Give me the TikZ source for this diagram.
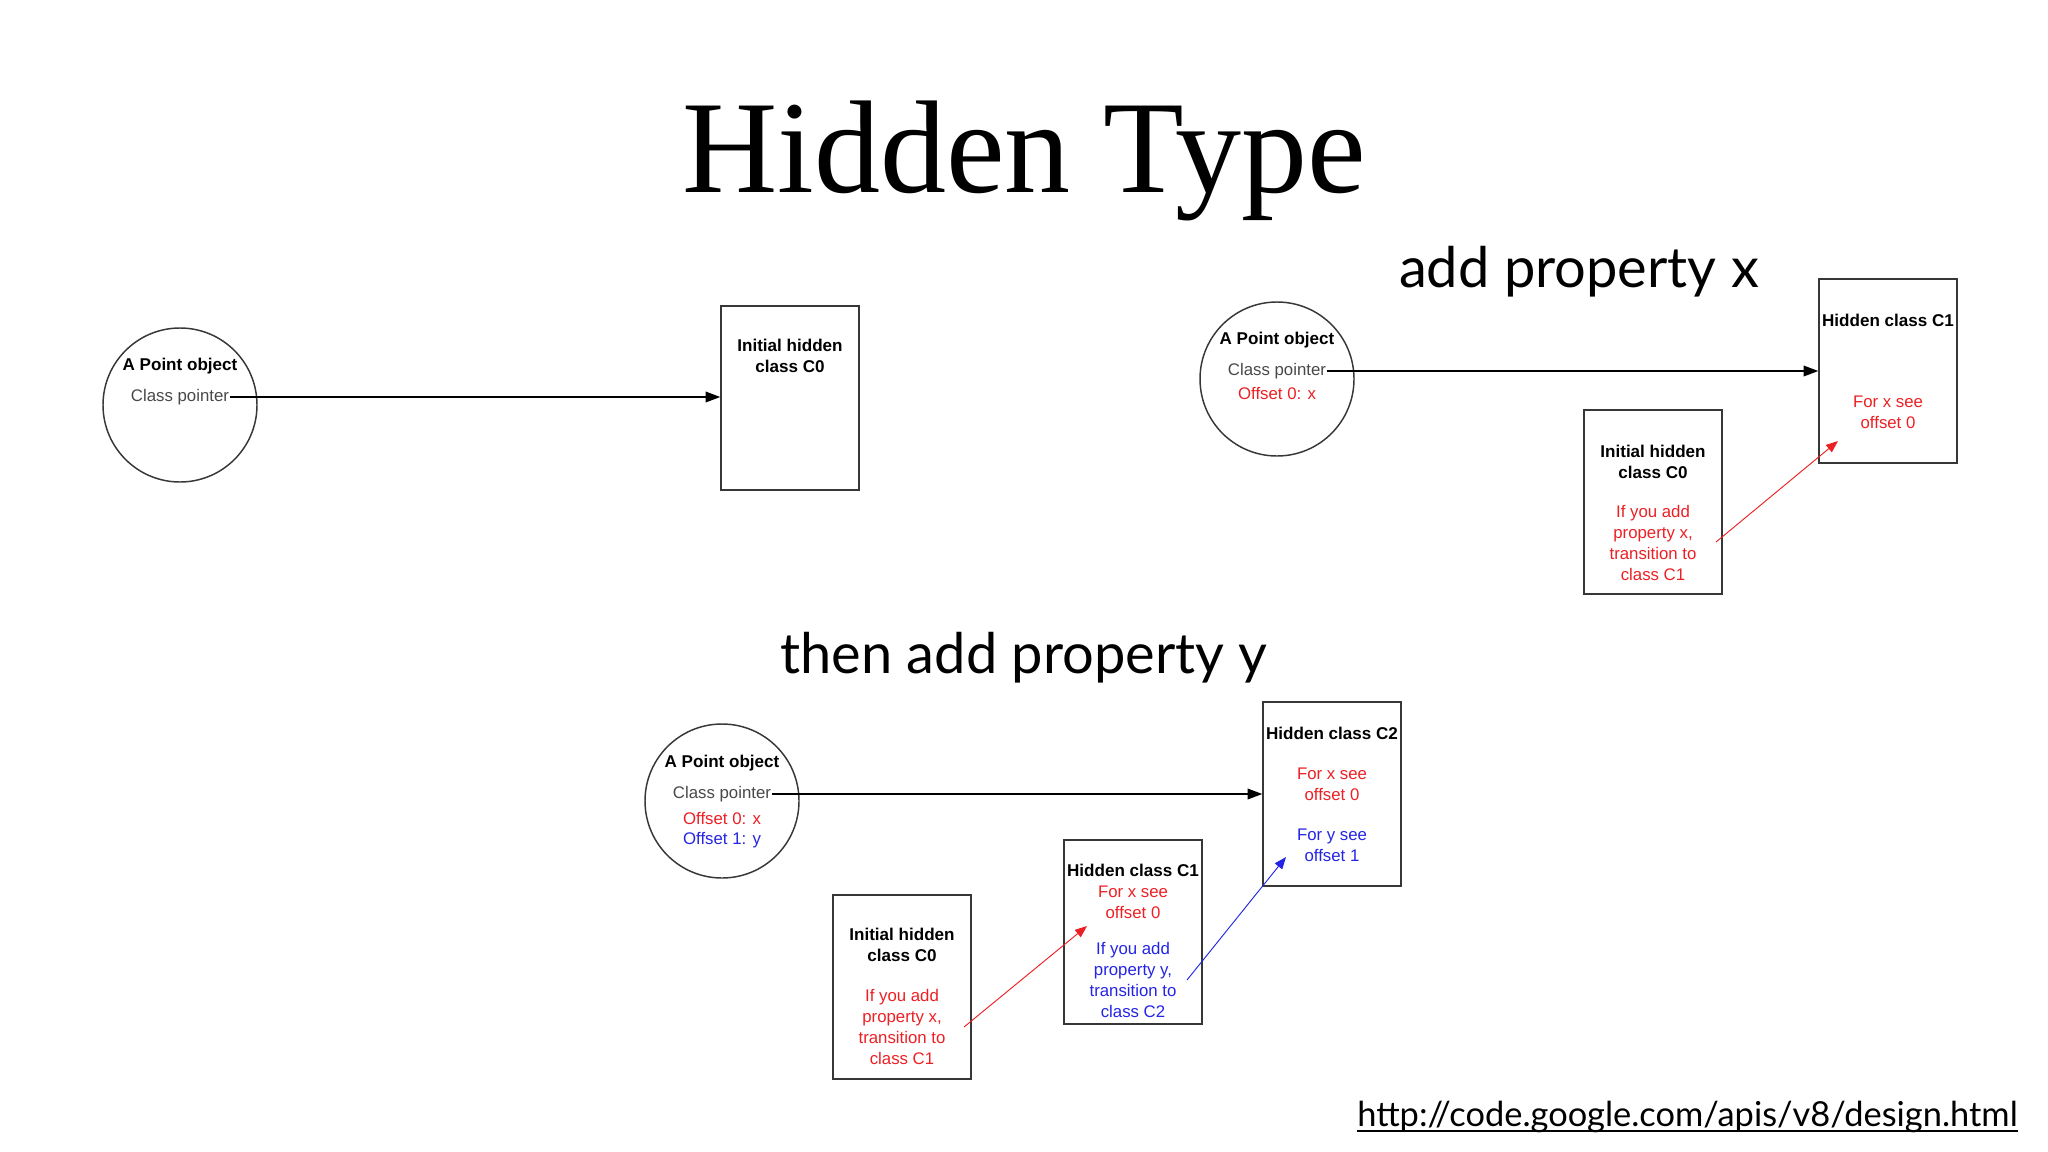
\documentclass[tikz,border=0pt]{standalone}
\usepackage{fontspec}
\setmainfont{Liberation Serif}
\newfontfamily\diagfont{Liberation Sans}
\newfontfamily\gillfont{Lato}
\usepackage{tikz}
\usetikzlibrary{shapes,arrows.meta}
\definecolor{addred}{RGB}{236,32,36}
\definecolor{addblue}{RGB}{36,36,228}
\definecolor{ptrgray}{RGB}{72,72,72}
\definecolor{edgegray}{RGB}{55,55,55}

\begin{document}
\begin{tikzpicture}[x=0.75pt,y=0.75pt,yscale=-1,xscale=1,
    obj/.style={draw=edgegray,line width=1.1pt,circle,minimum size=115.5pt,inner sep=0pt},
    hclass/.style={draw=edgegray,line width=1.1pt,rectangle,minimum width=103.5pt,minimum height=138pt,inner sep=0pt},
    lbl/.style={inner sep=0.75pt,align=center,font=\diagfont\fontsize{12.6}{15.6}\selectfont},
    hd/.style={inner sep=0.75pt,align=center,font=\diagfont\bfseries\fontsize{12.8}{15.6}\selectfont},
    ptr/.style={line width=1.1pt,-{Triangle[length=11pt,width=8pt]}},
    trans/.style={line width=0.7pt,-{Triangle[length=9pt,width=7pt]}},
    slide/.style={anchor=base,inner sep=0pt,font=\gillfont\fontsize{42}{48}\selectfont}]
    \path[use as bounding box] (0,0) rectangle (2048,1152);

    % Title
    \node[anchor=base,inner sep=0pt,font=\fontsize{99}{100}\selectfont] (title) at (1024,193) {Hidden Type};

    %% first: empty object
    \node[obj] (pt1) at (180,405) {};
    \node[hd] (pt1h) at (180,366) {A Point object};
    \node[lbl,text=ptrgray] (cp1) at (180,397) {Class pointer};
    \node[hclass] (c0a) at (790,398) {};
    \node[hd] (c0ah) at (790,356) {Initial hidden\\class C0};
    \draw[ptr] (cp1.east) -- (cp1.east -| c0a.west);

    %% second: add property x
    \node[slide] (step1) at (1579,287) {add property x};
    \node[obj] (pt2) at (1277,379) {};
    \node[hd] (pt2h) at (1277,340) {A Point object};
    \node[lbl,text=ptrgray] (cp2) at (1277,371) {Class pointer};
    \node[lbl,text=addred] (off2x) at (1277,394) {Offset 0: x};
    \node[hclass] (c1b) at (1888,371) {};
    \node[hd] (c1bh) at (1888,320) {Hidden class C1};
    \node[lbl,text=addred] (c1bx) at (1888,412) {For x see\\offset 0};
    \node[hclass] (c0b) at (1653,502) {};
    \node[hd] (c0bh) at (1653,462) {Initial hidden\\class C0};
    \node[lbl,text=addred] (c0bx) at (1653,543) {If you add\\property x,\\transition to\\class C1};
    \draw[ptr] (cp2.east) -- (cp2.east -| c1b.west);
    % transition C0 -> C1
    \coordinate (tb0) at (1716,542);
    \coordinate (tb1) at (1838,441);
    \draw[trans,addred] (tb0) -- (tb1);

    %% third: then add property y
    \node[slide] (step2) at (1024,673) {then add property y};
    \node[obj] (pt3) at (722,801) {};
    \node[hd] (pt3h) at (722,763) {A Point object};
    \node[lbl,text=ptrgray] (cp3) at (722,794) {Class pointer};
    \node[lbl,text=addred] (off3x) at (722,818) {Offset 0: x};
    \node[lbl,text=addblue] (off3y) at (722,840) {Offset 1: y};
    \node[hclass] (c2c) at (1332,794) {};
    \node[hd] (c2ch) at (1332,733) {Hidden class C2};
    \node[lbl,text=addred] (c2cx) at (1332,784) {For x see\\offset 0};
    \node[lbl,text=addblue] (c2cy) at (1332,845) {For y see\\offset 1};
    \node[hclass] (c1c) at (1133,932) {};
    \node[hd] (c1ch) at (1133,870) {Hidden class C1};
    \node[lbl,text=addred] (c1cx) at (1133,902) {For x see\\offset 0};
    \node[lbl,text=addblue] (c1cy) at (1133,980) {If you add\\property y,\\transition to\\class C2};
    \node[hclass] (c0c) at (902,987) {};
    \node[hd] (c0ch) at (902,945) {Initial hidden\\class C0};
    \node[lbl,text=addred] (c0cx) at (902,1027) {If you add\\property x,\\transition to\\class C1};
    \draw[ptr] (cp3.east) -- (cp3.east -| c2c.west);
    % transitions C0 -> C1 -> C2
    \coordinate (tc0) at (964,1027);
    \coordinate (tc1) at (1087,926);
    \coordinate (tc2) at (1187,980);
    \coordinate (tc3) at (1286,857);
    \draw[trans,addred] (tc0) -- (tc1);
    \draw[trans,addblue] (tc2) -- (tc3);

    % source link
    \node[anchor=base east,inner sep=0pt,font=\gillfont\fontsize{25.8}{30}\selectfont] (src) at (2018,1126) {http://code.google.com/apis/v8/design.html};
    \draw[line width=1pt] ([shift={(0,5)}]src.base west) -- ([shift={(0,5)}]src.base east);

\end{tikzpicture}
\end{document}
